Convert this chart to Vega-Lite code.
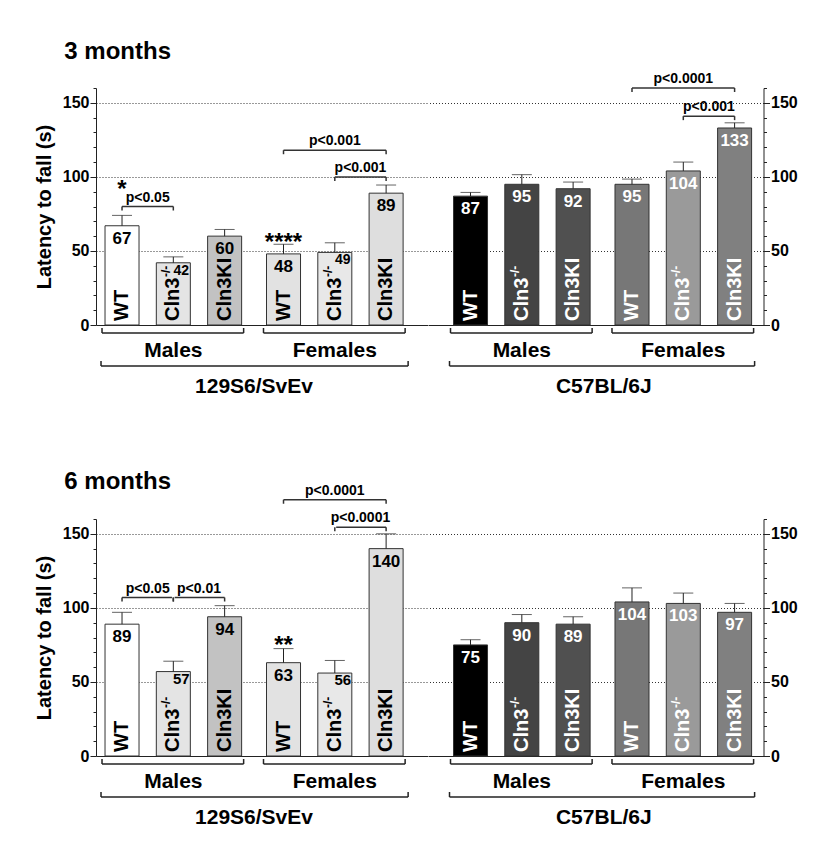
{
"$schema": "https://vega.github.io/schema/vega-lite/v6.json",
"padding": {"left": 34, "top": 40, "right": 5, "bottom": 5},
"config": {"font": "Liberation Sans", "view": {"stroke": null}},
"datasets": {"all": [
{"k":"bar","age":"3 months","strain":"129S6/SvEv","sex":"Males","genotype":"WT","mean":67,"err":74},
{"k":"bar","age":"3 months","strain":"129S6/SvEv","sex":"Males","genotype":"Cln3-/-","mean":42,"err":46},
{"k":"bar","age":"3 months","strain":"129S6/SvEv","sex":"Males","genotype":"Cln3KI","mean":60,"err":64.5},
{"k":"bar","age":"3 months","strain":"129S6/SvEv","sex":"Females","genotype":"WT","mean":48,"err":54.5},
{"k":"bar","age":"3 months","strain":"129S6/SvEv","sex":"Females","genotype":"Cln3-/-","mean":49,"err":55.5},
{"k":"bar","age":"3 months","strain":"129S6/SvEv","sex":"Females","genotype":"Cln3KI","mean":89,"err":94.5},
{"k":"bar","age":"3 months","strain":"C57BL/6J","sex":"Males","genotype":"WT","mean":87,"err":89.5},
{"k":"bar","age":"3 months","strain":"C57BL/6J","sex":"Males","genotype":"Cln3-/-","mean":95,"err":101.5},
{"k":"bar","age":"3 months","strain":"C57BL/6J","sex":"Males","genotype":"Cln3KI","mean":92,"err":96.5},
{"k":"bar","age":"3 months","strain":"C57BL/6J","sex":"Females","genotype":"WT","mean":95,"err":98.5},
{"k":"bar","age":"3 months","strain":"C57BL/6J","sex":"Females","genotype":"Cln3-/-","mean":104,"err":110},
{"k":"bar","age":"3 months","strain":"C57BL/6J","sex":"Females","genotype":"Cln3KI","mean":133,"err":136.5},
{"k":"bar","age":"6 months","strain":"129S6/SvEv","sex":"Males","genotype":"WT","mean":89,"err":97},
{"k":"bar","age":"6 months","strain":"129S6/SvEv","sex":"Males","genotype":"Cln3-/-","mean":57,"err":64},
{"k":"bar","age":"6 months","strain":"129S6/SvEv","sex":"Males","genotype":"Cln3KI","mean":94,"err":101.5},
{"k":"bar","age":"6 months","strain":"129S6/SvEv","sex":"Females","genotype":"WT","mean":63,"err":72.5},
{"k":"bar","age":"6 months","strain":"129S6/SvEv","sex":"Females","genotype":"Cln3-/-","mean":56,"err":64.5},
{"k":"bar","age":"6 months","strain":"129S6/SvEv","sex":"Females","genotype":"Cln3KI","mean":140,"err":150},
{"k":"bar","age":"6 months","strain":"C57BL/6J","sex":"Males","genotype":"WT","mean":75,"err":78.5},
{"k":"bar","age":"6 months","strain":"C57BL/6J","sex":"Males","genotype":"Cln3-/-","mean":90,"err":95.5},
{"k":"bar","age":"6 months","strain":"C57BL/6J","sex":"Males","genotype":"Cln3KI","mean":89,"err":94},
{"k":"bar","age":"6 months","strain":"C57BL/6J","sex":"Females","genotype":"WT","mean":104,"err":113.5},
{"k":"bar","age":"6 months","strain":"C57BL/6J","sex":"Females","genotype":"Cln3-/-","mean":103,"err":110},
{"k":"bar","age":"6 months","strain":"C57BL/6J","sex":"Females","genotype":"Cln3KI","mean":97,"err":103},
{"k":"sig","age":"3 months","strain":"129S6/SvEv","sex":"Males","from":"WT","to":"Cln3-/-","pair":"WT-Cln3","level":80,"label":"p<0.05"},
{"k":"sig","age":"3 months","strain":"129S6/SvEv","sex":"Females","from":"WT","to":"Cln3KI","pair":"WT-KI","level":118,"label":"p<0.001"},
{"k":"sig","age":"3 months","strain":"129S6/SvEv","sex":"Females","from":"Cln3-/-","to":"Cln3KI","pair":"Cln3-KI","level":100,"label":"p<0.001"},
{"k":"sig","age":"3 months","strain":"C57BL/6J","sex":"Females","from":"WT","to":"Cln3KI","pair":"WT-KI","level":160,"label":"p<0.0001"},
{"k":"sig","age":"3 months","strain":"C57BL/6J","sex":"Females","from":"Cln3-/-","to":"Cln3KI","pair":"Cln3-KI","level":141,"label":"p<0.001"},
{"k":"sig","age":"6 months","strain":"129S6/SvEv","sex":"Males","from":"WT","to":"Cln3-/-","pair":"WT-Cln3","level":107,"label":"p<0.05"},
{"k":"sig","age":"6 months","strain":"129S6/SvEv","sex":"Males","from":"Cln3-/-","to":"Cln3KI","pair":"Cln3-KI","level":107,"label":"p<0.01"},
{"k":"sig","age":"6 months","strain":"129S6/SvEv","sex":"Females","from":"WT","to":"Cln3KI","pair":"WT-KI","level":173,"label":"p<0.0001"},
{"k":"sig","age":"6 months","strain":"129S6/SvEv","sex":"Females","from":"Cln3-/-","to":"Cln3KI","pair":"Cln3-KI","level":154.5,"label":"p<0.0001"},
{"k":"star","age":"3 months","strain":"129S6/SvEv","sex":"Males","genotype":"WT","level":86.5,"label":"*"},
{"k":"star","age":"3 months","strain":"129S6/SvEv","sex":"Females","genotype":"WT","level":50.5,"label":"****"},
{"k":"star","age":"6 months","strain":"129S6/SvEv","sex":"Females","genotype":"WT","level":69.5,"label":"**"}
]},
"data": {"name": "all"},
"spacing": 73,
"vconcat": [
{"title": {"text": "3 months", "anchor": "start", "fontSize": 24, "fontWeight": "bold", "color": "#000", "dx": 30, "offset": 8},
 "spacing": 0, "bounds": "flush",
 "hconcat": [
 {"width": 331.5, "height": 237,
  "transform": [{"filter": "datum.age==='3 months' && datum.strain==='129S6/SvEv'"}],
  "encoding": {
   "x": {"field": "sex", "type": "nominal", "scale": {"domain": ["Males","Females"], "paddingInner": 0.154, "paddingOuter": 0.1034, "align": 0.27},
    "axis": {"title": "129S6/SvEv", "labelAngle": 0, "ticks": false, "tickSize": 0, "labelFontSize": 21, "labelFontWeight": "bold", "labelColor": "#000", "labelBaseline": "alphabetic", "labelPadding": 31, "domainColor": "#222", "titleFontSize": 21, "titleFontWeight": "bold", "titleColor": "#000", "titleX": 157.5, "titleY": 67, "titleBaseline": "alphabetic", "titleAlign": "center"}},
   "y": {"field": "mean", "type": "quantitative", "scale": {"domain": [0,160], "nice": false},
    "axis": {"orient": "left", "title": "Latency to fall (s)", "values": [0,10,20,30,40,50,60,70,80,90,100,110,120,130,140,150,160], "labelExpr": "datum.value % 50 === 0 ? datum.label : ''", "labelFontSize": 16, "labelFontWeight": "bold", "labelColor": "#000", "labelPadding": 1, "labelFlush": false, "labelOverlap": false, "tickSize": {"condition": {"test": "datum.value % 50 === 0", "value": 6}, "value": 3}, "tickColor": "#222", "domainColor": "#222", "grid": true, "gridColor": "#333", "gridDash": [1,2], "gridOpacity": {"condition": {"test": "datum.value % 50 === 0 && datum.value > 0", "value": 1}, "value": 0}, "titleFontSize": 20, "titleFontWeight": "bold", "titleColor": "#000", "titlePadding": 8}}
  },
  "layer": [
   {"mark": {"type": "bar", "stroke": "#333", "strokeWidth": 1},
    "transform": [{"filter": "datum.k==='bar'"}],
    "encoding": {"xOffset": {"field": "genotype", "type": "nominal", "scale": {"domain": ["WT","Cln3-/-","Cln3KI"], "paddingInner": 0.337, "paddingOuter": 0}},
     "fill": {"condition": [
      {"test": "datum.sex==='Males' && datum.genotype==='WT'", "value": "#ffffff"},
      {"test": "datum.sex==='Males' && datum.genotype==='Cln3-/-'", "value": "#e4e4e4"},
      {"test": "datum.sex==='Males' && datum.genotype==='Cln3KI'", "value": "#c2c2c2"},
      {"test": "datum.sex==='Females' && datum.genotype==='WT'", "value": "#e2e2e2"},
      {"test": "datum.sex==='Females' && datum.genotype==='Cln3-/-'", "value": "#e8e8e8"}], "value": "#dedede"}}},
   {"mark": {"type": "rule", "color": "#222"}, "transform": [{"filter": "datum.k==='bar'"}],
    "encoding": {"xOffset": {"field": "genotype", "type": "nominal"}, "y2": {"field": "err"}}},
   {"mark": {"type": "tick", "color": "#222", "size": 20, "thickness": 1, "orient": "horizontal"}, "transform": [{"filter": "datum.k==='bar'"}],
    "encoding": {"xOffset": {"field": "genotype", "type": "nominal"}, "y": {"field": "err", "type": "quantitative"}}},
   {"mark": {"type": "text", "fontSize": 17, "fontWeight": "bold", "baseline": "alphabetic", "dy": 18, "fill": "#000"}, "transform": [{"filter": "datum.k==='bar' && datum.genotype!=='Cln3-/-'"}],
    "encoding": {"xOffset": {"field": "genotype", "type": "nominal"}, "text": {"field": "mean", "type": "quantitative"}}},
   {"mark": {"type": "text", "fontSize": 14, "fontWeight": "bold", "baseline": "alphabetic", "dy": 12, "dx": 8, "fill": "#000"}, "transform": [{"filter": "datum.k==='bar' && datum.genotype==='Cln3-/-'"}],
    "encoding": {"xOffset": {"field": "genotype", "type": "nominal"}, "text": {"field": "mean", "type": "quantitative"}}},
   {"mark": {"type": "text", "angle": 270, "align": "left", "baseline": "middle", "dx": 4, "fontSize": 20, "fontWeight": "bold", "fill": "#000"}, "transform": [{"filter": "datum.k==='bar' && datum.genotype!=='Cln3-/-'"}],
    "encoding": {"xOffset": {"field": "genotype", "type": "nominal"}, "y": {"datum": 0}, "text": {"field": "genotype", "type": "nominal"}}},
   {"mark": {"type": "text", "angle": 270, "align": "left", "baseline": "middle", "dx": 4, "fontSize": 20, "fontWeight": "bold", "fill": "#000"}, "transform": [{"filter": "datum.k==='bar' && datum.genotype==='Cln3-/-'"}],
    "encoding": {"xOffset": {"field": "genotype", "type": "nominal"}, "y": {"datum": 0}, "text": {"value": "Cln3"}}},
   {"mark": {"type": "text", "angle": 270, "align": "left", "baseline": "middle", "dx": 48, "dy": -7, "fontSize": 12, "fontWeight": "bold", "fill": "#000"}, "transform": [{"filter": "datum.k==='bar' && datum.genotype==='Cln3-/-'"}],
    "encoding": {"xOffset": {"field": "genotype", "type": "nominal"}, "y": {"datum": 0}, "text": {"value": "-/-"}}},
   {"mark": {"type": "rule", "color": "#222", "strokeWidth": 1.5, "yOffset": 8, "xOffset": -3, "x2Offset": 2}, "transform": [{"filter": "datum.k==='bar' && datum.genotype==='WT'"}],
    "encoding": {"x": {"field": "sex", "type": "nominal", "bandPosition": 0}, "x2": {"field": "sex", "bandPosition": 1}, "y": {"datum": 0}}},
   {"mark": {"type": "rule", "color": "#222", "strokeWidth": 1.5, "xOffset": -3, "yOffset": 3, "y2Offset": 8}, "transform": [{"filter": "datum.k==='bar' && datum.genotype==='WT'"}],
    "encoding": {"x": {"field": "sex", "type": "nominal", "bandPosition": 0}, "y": {"datum": 0}, "y2": {"datum": 0}}},
   {"mark": {"type": "rule", "color": "#222", "strokeWidth": 1.5, "xOffset": 2, "yOffset": 3, "y2Offset": 8}, "transform": [{"filter": "datum.k==='bar' && datum.genotype==='WT'"}],
    "encoding": {"x": {"field": "sex", "type": "nominal", "bandPosition": 1}, "y": {"datum": 0}, "y2": {"datum": 0}}},
   {"mark": {"type": "rule", "color": "#222", "strokeWidth": 1.5, "yOffset": 41, "xOffset": -4, "x2Offset": 5}, "transform": [{"filter": "datum.k==='bar' && datum.genotype==='WT' && datum.sex==='Males'"}],
    "encoding": {"x": {"datum": "Males", "type": "nominal", "bandPosition": 0}, "x2": {"datum": "Females", "bandPosition": 1}, "y": {"datum": 0}}},
   {"mark": {"type": "rule", "color": "#222", "strokeWidth": 1.5, "xOffset": -4, "yOffset": 36, "y2Offset": 41}, "transform": [{"filter": "datum.k==='bar' && datum.genotype==='WT' && datum.sex==='Males'"}],
    "encoding": {"x": {"datum": "Males", "type": "nominal", "bandPosition": 0}, "y": {"datum": 0}, "y2": {"datum": 0}}},
   {"mark": {"type": "rule", "color": "#222", "strokeWidth": 1.5, "xOffset": 5, "yOffset": 36, "y2Offset": 41}, "transform": [{"filter": "datum.k==='bar' && datum.genotype==='WT' && datum.sex==='Males'"}],
    "encoding": {"x": {"datum": "Females", "type": "nominal", "bandPosition": 1}, "y": {"datum": 0}, "y2": {"datum": 0}}},
   {"transform": [{"filter": "datum.k==='sig' && datum.pair==='WT-Cln3'"}], "layer": [
     {"mark": {"type": "rule", "color": "#333", "strokeWidth": 1.5}, "encoding": {"x": {"field": "sex", "type": "nominal", "bandPosition": 0.1245}, "x2": {"field": "sex", "bandPosition": 0.5}, "y": {"field": "level", "type": "quantitative"}}},
     {"mark": {"type": "text", "fontSize": 14, "fontWeight": "bold", "baseline": "alphabetic", "dy": -5, "fill": "#000"}, "encoding": {"x": {"field": "sex", "type": "nominal", "bandPosition": 0.3123}, "y": {"field": "level", "type": "quantitative"}, "text": {"field": "label", "type": "nominal"}}}]},
   {"transform": [{"filter": "datum.k==='sig' && datum.pair==='WT-KI'"}], "layer": [
     {"mark": {"type": "rule", "color": "#333", "strokeWidth": 1.5}, "encoding": {"x": {"field": "sex", "type": "nominal", "bandPosition": 0.1245}, "x2": {"field": "sex", "bandPosition": 0.8755}, "y": {"field": "level", "type": "quantitative"}}},
     {"mark": {"type": "text", "fontSize": 14, "fontWeight": "bold", "baseline": "alphabetic", "dy": -5, "fill": "#000"}, "encoding": {"x": {"field": "sex", "type": "nominal", "bandPosition": 0.5}, "y": {"field": "level", "type": "quantitative"}, "text": {"field": "label", "type": "nominal"}}}]},
   {"transform": [{"filter": "datum.k==='sig' && datum.pair==='Cln3-KI'"}], "layer": [
     {"mark": {"type": "rule", "color": "#333", "strokeWidth": 1.5}, "encoding": {"x": {"field": "sex", "type": "nominal", "bandPosition": 0.5}, "x2": {"field": "sex", "bandPosition": 0.8755}, "y": {"field": "level", "type": "quantitative"}}},
     {"mark": {"type": "text", "fontSize": 14, "fontWeight": "bold", "baseline": "alphabetic", "dy": -5, "fill": "#000"}, "encoding": {"x": {"field": "sex", "type": "nominal", "bandPosition": 0.6877}, "y": {"field": "level", "type": "quantitative"}, "text": {"field": "label", "type": "nominal"}}}]},
   {"mark": {"type": "rule", "color": "#333", "strokeWidth": 1.5, "y2Offset": 4}, "transform": [{"filter": "datum.k==='sig'"}],
    "encoding": {"xOffset": {"field": "from", "type": "nominal"}, "y": {"field": "level", "type": "quantitative"}, "y2": {"field": "level"}}},
   {"mark": {"type": "rule", "color": "#333", "strokeWidth": 1.5, "y2Offset": 4}, "transform": [{"filter": "datum.k==='sig'"}],
    "encoding": {"xOffset": {"field": "to", "type": "nominal"}, "y": {"field": "level", "type": "quantitative"}, "y2": {"field": "level"}}},
   {"mark": {"type": "text", "fontSize": 24, "fontWeight": "bold", "baseline": "alphabetic", "fill": "#000"}, "transform": [{"filter": "datum.k==='star'"}],
    "encoding": {"xOffset": {"field": "genotype", "type": "nominal"}, "y": {"field": "level", "type": "quantitative"}, "text": {"field": "label", "type": "nominal"}}}
  ]},
 {"width": 335.5, "height": 237,
  "transform": [{"filter": "datum.age==='3 months' && datum.strain==='C57BL/6J'"}],
  "encoding": {
   "x": {"field": "sex", "type": "nominal", "scale": {"domain": ["Males","Females"], "paddingInner": 0.154, "paddingOuter": 0.1158, "align": 0.682},
    "axis": {"title": "C57BL/6J", "labelAngle": 0, "ticks": false, "tickSize": 0, "labelFontSize": 21, "labelFontWeight": "bold", "labelColor": "#000", "labelBaseline": "alphabetic", "labelPadding": 31, "domainColor": "#222", "titleFontSize": 21, "titleFontWeight": "bold", "titleColor": "#000", "titleX": 175.3, "titleY": 67, "titleBaseline": "alphabetic", "titleAlign": "center"}},
   "y": {"field": "mean", "type": "quantitative", "scale": {"domain": [0,160], "nice": false},
    "axis": {"orient": "right", "title": null, "values": [0,10,20,30,40,50,60,70,80,90,100,110,120,130,140,150,160], "labelExpr": "datum.value % 50 === 0 ? datum.label : ''", "labelFontSize": 16, "labelFontWeight": "bold", "labelColor": "#000", "labelPadding": 1, "labelFlush": false, "labelOverlap": false, "tickSize": {"condition": {"test": "datum.value % 50 === 0", "value": 6}, "value": 3}, "tickColor": "#222", "domainColor": "#222", "grid": true, "gridColor": "#333", "gridDash": [1,2], "gridOpacity": {"condition": {"test": "datum.value % 50 === 0 && datum.value > 0", "value": 1}, "value": 0}}}
  },
  "layer": [
   {"mark": {"type": "bar", "stroke": "#333", "strokeWidth": 1},
    "transform": [{"filter": "datum.k==='bar'"}],
    "encoding": {"xOffset": {"field": "genotype", "type": "nominal", "scale": {"domain": ["WT","Cln3-/-","Cln3KI"], "paddingInner": 0.337, "paddingOuter": 0}},
     "fill": {"condition": [
      {"test": "datum.sex==='Males' && datum.genotype==='WT'", "value": "#000000"},
      {"test": "datum.sex==='Males' && datum.genotype==='Cln3-/-'", "value": "#444444"},
      {"test": "datum.sex==='Males' && datum.genotype==='Cln3KI'", "value": "#505050"},
      {"test": "datum.sex==='Females' && datum.genotype==='WT'", "value": "#777777"},
      {"test": "datum.sex==='Females' && datum.genotype==='Cln3-/-'", "value": "#9a9a9a"}], "value": "#808080"}}},
   {"mark": {"type": "rule", "color": "#222"}, "transform": [{"filter": "datum.k==='bar'"}],
    "encoding": {"xOffset": {"field": "genotype", "type": "nominal"}, "y2": {"field": "err"}}},
   {"mark": {"type": "tick", "color": "#222", "size": 20, "thickness": 1, "orient": "horizontal"}, "transform": [{"filter": "datum.k==='bar'"}],
    "encoding": {"xOffset": {"field": "genotype", "type": "nominal"}, "y": {"field": "err", "type": "quantitative"}}},
   {"mark": {"type": "text", "fontSize": 17, "fontWeight": "bold", "baseline": "alphabetic", "dy": 18, "fill": "#fff"}, "transform": [{"filter": "datum.k==='bar'"}],
    "encoding": {"xOffset": {"field": "genotype", "type": "nominal"}, "text": {"field": "mean", "type": "quantitative"}}},
   {"mark": {"type": "text", "angle": 270, "align": "left", "baseline": "middle", "dx": 4, "fontSize": 20, "fontWeight": "bold", "fill": "#fff"}, "transform": [{"filter": "datum.k==='bar' && datum.genotype!=='Cln3-/-'"}],
    "encoding": {"xOffset": {"field": "genotype", "type": "nominal"}, "y": {"datum": 0}, "text": {"field": "genotype", "type": "nominal"}}},
   {"mark": {"type": "text", "angle": 270, "align": "left", "baseline": "middle", "dx": 4, "fontSize": 20, "fontWeight": "bold", "fill": "#fff"}, "transform": [{"filter": "datum.k==='bar' && datum.genotype==='Cln3-/-'"}],
    "encoding": {"xOffset": {"field": "genotype", "type": "nominal"}, "y": {"datum": 0}, "text": {"value": "Cln3"}}},
   {"mark": {"type": "text", "angle": 270, "align": "left", "baseline": "middle", "dx": 48, "dy": -7, "fontSize": 12, "fontWeight": "bold", "fill": "#fff"}, "transform": [{"filter": "datum.k==='bar' && datum.genotype==='Cln3-/-'"}],
    "encoding": {"xOffset": {"field": "genotype", "type": "nominal"}, "y": {"datum": 0}, "text": {"value": "-/-"}}},
   {"mark": {"type": "rule", "color": "#222", "strokeWidth": 1.5, "yOffset": 8, "xOffset": -3, "x2Offset": 2}, "transform": [{"filter": "datum.k==='bar' && datum.genotype==='WT'"}],
    "encoding": {"x": {"field": "sex", "type": "nominal", "bandPosition": 0}, "x2": {"field": "sex", "bandPosition": 1}, "y": {"datum": 0}}},
   {"mark": {"type": "rule", "color": "#222", "strokeWidth": 1.5, "xOffset": -3, "yOffset": 3, "y2Offset": 8}, "transform": [{"filter": "datum.k==='bar' && datum.genotype==='WT'"}],
    "encoding": {"x": {"field": "sex", "type": "nominal", "bandPosition": 0}, "y": {"datum": 0}, "y2": {"datum": 0}}},
   {"mark": {"type": "rule", "color": "#222", "strokeWidth": 1.5, "xOffset": 2, "yOffset": 3, "y2Offset": 8}, "transform": [{"filter": "datum.k==='bar' && datum.genotype==='WT'"}],
    "encoding": {"x": {"field": "sex", "type": "nominal", "bandPosition": 1}, "y": {"datum": 0}, "y2": {"datum": 0}}},
   {"mark": {"type": "rule", "color": "#222", "strokeWidth": 1.5, "yOffset": 41, "xOffset": -4, "x2Offset": 3}, "transform": [{"filter": "datum.k==='bar' && datum.genotype==='WT' && datum.sex==='Males'"}],
    "encoding": {"x": {"datum": "Males", "type": "nominal", "bandPosition": 0}, "x2": {"datum": "Females", "bandPosition": 1}, "y": {"datum": 0}}},
   {"mark": {"type": "rule", "color": "#222", "strokeWidth": 1.5, "xOffset": -4, "yOffset": 36, "y2Offset": 41}, "transform": [{"filter": "datum.k==='bar' && datum.genotype==='WT' && datum.sex==='Males'"}],
    "encoding": {"x": {"datum": "Males", "type": "nominal", "bandPosition": 0}, "y": {"datum": 0}, "y2": {"datum": 0}}},
   {"mark": {"type": "rule", "color": "#222", "strokeWidth": 1.5, "xOffset": 3, "yOffset": 36, "y2Offset": 41}, "transform": [{"filter": "datum.k==='bar' && datum.genotype==='WT' && datum.sex==='Males'"}],
    "encoding": {"x": {"datum": "Females", "type": "nominal", "bandPosition": 1}, "y": {"datum": 0}, "y2": {"datum": 0}}},
   {"transform": [{"filter": "datum.k==='sig' && datum.pair==='WT-KI'"}], "layer": [
     {"mark": {"type": "rule", "color": "#333", "strokeWidth": 1.5}, "encoding": {"x": {"field": "sex", "type": "nominal", "bandPosition": 0.1245}, "x2": {"field": "sex", "bandPosition": 0.8755}, "y": {"field": "level", "type": "quantitative"}}},
     {"mark": {"type": "text", "fontSize": 14, "fontWeight": "bold", "baseline": "alphabetic", "dy": -5, "fill": "#000"}, "encoding": {"x": {"field": "sex", "type": "nominal", "bandPosition": 0.5}, "y": {"field": "level", "type": "quantitative"}, "text": {"field": "label", "type": "nominal"}}}]},
   {"transform": [{"filter": "datum.k==='sig' && datum.pair==='Cln3-KI'"}], "layer": [
     {"mark": {"type": "rule", "color": "#333", "strokeWidth": 1.5}, "encoding": {"x": {"field": "sex", "type": "nominal", "bandPosition": 0.5}, "x2": {"field": "sex", "bandPosition": 0.8755}, "y": {"field": "level", "type": "quantitative"}}},
     {"mark": {"type": "text", "fontSize": 14, "fontWeight": "bold", "baseline": "alphabetic", "dy": -5, "fill": "#000"}, "encoding": {"x": {"field": "sex", "type": "nominal", "bandPosition": 0.6877}, "y": {"field": "level", "type": "quantitative"}, "text": {"field": "label", "type": "nominal"}}}]},
   {"mark": {"type": "rule", "color": "#333", "strokeWidth": 1.5, "y2Offset": 4}, "transform": [{"filter": "datum.k==='sig'"}],
    "encoding": {"xOffset": {"field": "from", "type": "nominal"}, "y": {"field": "level", "type": "quantitative"}, "y2": {"field": "level"}}},
   {"mark": {"type": "rule", "color": "#333", "strokeWidth": 1.5, "y2Offset": 4}, "transform": [{"filter": "datum.k==='sig'"}],
    "encoding": {"xOffset": {"field": "to", "type": "nominal"}, "y": {"field": "level", "type": "quantitative"}, "y2": {"field": "level"}}}
  ]}
 ]},
{"title": {"text": "6 months", "anchor": "start", "fontSize": 24, "fontWeight": "bold", "color": "#000", "dx": 30, "offset": -10},
 "spacing": 0, "bounds": "flush",
 "hconcat": [
 {"width": 331.5, "height": 237,
  "transform": [{"filter": "datum.age==='6 months' && datum.strain==='129S6/SvEv'"}],
  "encoding": {
   "x": {"field": "sex", "type": "nominal", "scale": {"domain": ["Males","Females"], "paddingInner": 0.154, "paddingOuter": 0.1034, "align": 0.27},
    "axis": {"title": "129S6/SvEv", "labelAngle": 0, "ticks": false, "tickSize": 0, "labelFontSize": 21, "labelFontWeight": "bold", "labelColor": "#000", "labelBaseline": "alphabetic", "labelPadding": 31, "domainColor": "#222", "titleFontSize": 21, "titleFontWeight": "bold", "titleColor": "#000", "titleX": 157.5, "titleY": 67, "titleBaseline": "alphabetic", "titleAlign": "center"}},
   "y": {"field": "mean", "type": "quantitative", "scale": {"domain": [0,160], "nice": false},
    "axis": {"orient": "left", "title": "Latency to fall (s)", "values": [0,10,20,30,40,50,60,70,80,90,100,110,120,130,140,150,160], "labelExpr": "datum.value % 50 === 0 ? datum.label : ''", "labelFontSize": 16, "labelFontWeight": "bold", "labelColor": "#000", "labelPadding": 1, "labelFlush": false, "labelOverlap": false, "tickSize": {"condition": {"test": "datum.value % 50 === 0", "value": 6}, "value": 3}, "tickColor": "#222", "domainColor": "#222", "grid": true, "gridColor": "#333", "gridDash": [1,2], "gridOpacity": {"condition": {"test": "datum.value % 50 === 0 && datum.value > 0", "value": 1}, "value": 0}, "titleFontSize": 20, "titleFontWeight": "bold", "titleColor": "#000", "titlePadding": 8}}
  },
  "layer": [
   {"mark": {"type": "bar", "stroke": "#333", "strokeWidth": 1},
    "transform": [{"filter": "datum.k==='bar'"}],
    "encoding": {"xOffset": {"field": "genotype", "type": "nominal", "scale": {"domain": ["WT","Cln3-/-","Cln3KI"], "paddingInner": 0.337, "paddingOuter": 0}},
     "fill": {"condition": [
      {"test": "datum.sex==='Males' && datum.genotype==='WT'", "value": "#ffffff"},
      {"test": "datum.sex==='Males' && datum.genotype==='Cln3-/-'", "value": "#e4e4e4"},
      {"test": "datum.sex==='Males' && datum.genotype==='Cln3KI'", "value": "#c2c2c2"},
      {"test": "datum.sex==='Females' && datum.genotype==='WT'", "value": "#e2e2e2"},
      {"test": "datum.sex==='Females' && datum.genotype==='Cln3-/-'", "value": "#e8e8e8"}], "value": "#dedede"}}},
   {"mark": {"type": "rule", "color": "#222"}, "transform": [{"filter": "datum.k==='bar'"}],
    "encoding": {"xOffset": {"field": "genotype", "type": "nominal"}, "y2": {"field": "err"}}},
   {"mark": {"type": "tick", "color": "#222", "size": 20, "thickness": 1, "orient": "horizontal"}, "transform": [{"filter": "datum.k==='bar'"}],
    "encoding": {"xOffset": {"field": "genotype", "type": "nominal"}, "y": {"field": "err", "type": "quantitative"}}},
   {"mark": {"type": "text", "fontSize": 17, "fontWeight": "bold", "baseline": "alphabetic", "dy": 18, "fill": "#000"}, "transform": [{"filter": "datum.k==='bar' && datum.genotype!=='Cln3-/-'"}],
    "encoding": {"xOffset": {"field": "genotype", "type": "nominal"}, "text": {"field": "mean", "type": "quantitative"}}},
   {"mark": {"type": "text", "fontSize": 15, "fontWeight": "bold", "baseline": "alphabetic", "dy": 12, "dx": 8, "fill": "#000"}, "transform": [{"filter": "datum.k==='bar' && datum.genotype==='Cln3-/-'"}],
    "encoding": {"xOffset": {"field": "genotype", "type": "nominal"}, "text": {"field": "mean", "type": "quantitative"}}},
   {"mark": {"type": "text", "angle": 270, "align": "left", "baseline": "middle", "dx": 4, "fontSize": 20, "fontWeight": "bold", "fill": "#000"}, "transform": [{"filter": "datum.k==='bar' && datum.genotype!=='Cln3-/-'"}],
    "encoding": {"xOffset": {"field": "genotype", "type": "nominal"}, "y": {"datum": 0}, "text": {"field": "genotype", "type": "nominal"}}},
   {"mark": {"type": "text", "angle": 270, "align": "left", "baseline": "middle", "dx": 4, "fontSize": 20, "fontWeight": "bold", "fill": "#000"}, "transform": [{"filter": "datum.k==='bar' && datum.genotype==='Cln3-/-'"}],
    "encoding": {"xOffset": {"field": "genotype", "type": "nominal"}, "y": {"datum": 0}, "text": {"value": "Cln3"}}},
   {"mark": {"type": "text", "angle": 270, "align": "left", "baseline": "middle", "dx": 48, "dy": -7, "fontSize": 12, "fontWeight": "bold", "fill": "#000"}, "transform": [{"filter": "datum.k==='bar' && datum.genotype==='Cln3-/-'"}],
    "encoding": {"xOffset": {"field": "genotype", "type": "nominal"}, "y": {"datum": 0}, "text": {"value": "-/-"}}},
   {"mark": {"type": "rule", "color": "#222", "strokeWidth": 1.5, "yOffset": 8, "xOffset": -3, "x2Offset": 2}, "transform": [{"filter": "datum.k==='bar' && datum.genotype==='WT'"}],
    "encoding": {"x": {"field": "sex", "type": "nominal", "bandPosition": 0}, "x2": {"field": "sex", "bandPosition": 1}, "y": {"datum": 0}}},
   {"mark": {"type": "rule", "color": "#222", "strokeWidth": 1.5, "xOffset": -3, "yOffset": 3, "y2Offset": 8}, "transform": [{"filter": "datum.k==='bar' && datum.genotype==='WT'"}],
    "encoding": {"x": {"field": "sex", "type": "nominal", "bandPosition": 0}, "y": {"datum": 0}, "y2": {"datum": 0}}},
   {"mark": {"type": "rule", "color": "#222", "strokeWidth": 1.5, "xOffset": 2, "yOffset": 3, "y2Offset": 8}, "transform": [{"filter": "datum.k==='bar' && datum.genotype==='WT'"}],
    "encoding": {"x": {"field": "sex", "type": "nominal", "bandPosition": 1}, "y": {"datum": 0}, "y2": {"datum": 0}}},
   {"mark": {"type": "rule", "color": "#222", "strokeWidth": 1.5, "yOffset": 41, "xOffset": -4, "x2Offset": 5}, "transform": [{"filter": "datum.k==='bar' && datum.genotype==='WT' && datum.sex==='Males'"}],
    "encoding": {"x": {"datum": "Males", "type": "nominal", "bandPosition": 0}, "x2": {"datum": "Females", "bandPosition": 1}, "y": {"datum": 0}}},
   {"mark": {"type": "rule", "color": "#222", "strokeWidth": 1.5, "xOffset": -4, "yOffset": 36, "y2Offset": 41}, "transform": [{"filter": "datum.k==='bar' && datum.genotype==='WT' && datum.sex==='Males'"}],
    "encoding": {"x": {"datum": "Males", "type": "nominal", "bandPosition": 0}, "y": {"datum": 0}, "y2": {"datum": 0}}},
   {"mark": {"type": "rule", "color": "#222", "strokeWidth": 1.5, "xOffset": 5, "yOffset": 36, "y2Offset": 41}, "transform": [{"filter": "datum.k==='bar' && datum.genotype==='WT' && datum.sex==='Males'"}],
    "encoding": {"x": {"datum": "Females", "type": "nominal", "bandPosition": 1}, "y": {"datum": 0}, "y2": {"datum": 0}}},
   {"transform": [{"filter": "datum.k==='sig' && datum.pair==='WT-Cln3'"}], "layer": [
     {"mark": {"type": "rule", "color": "#333", "strokeWidth": 1.5}, "encoding": {"x": {"field": "sex", "type": "nominal", "bandPosition": 0.1245}, "x2": {"field": "sex", "bandPosition": 0.49}, "y": {"field": "level", "type": "quantitative"}}},
     {"mark": {"type": "text", "fontSize": 14, "fontWeight": "bold", "baseline": "alphabetic", "dy": -5, "fill": "#000"}, "encoding": {"x": {"field": "sex", "type": "nominal", "bandPosition": 0.3123}, "y": {"field": "level", "type": "quantitative"}, "text": {"field": "label", "type": "nominal"}}}]},
   {"transform": [{"filter": "datum.k==='sig' && datum.pair==='WT-KI'"}], "layer": [
     {"mark": {"type": "rule", "color": "#333", "strokeWidth": 1.5}, "encoding": {"x": {"field": "sex", "type": "nominal", "bandPosition": 0.1245}, "x2": {"field": "sex", "bandPosition": 0.8755}, "y": {"field": "level", "type": "quantitative"}}},
     {"mark": {"type": "text", "fontSize": 14, "fontWeight": "bold", "baseline": "alphabetic", "dy": -5, "fill": "#000"}, "encoding": {"x": {"field": "sex", "type": "nominal", "bandPosition": 0.5}, "y": {"field": "level", "type": "quantitative"}, "text": {"field": "label", "type": "nominal"}}}]},
   {"transform": [{"filter": "datum.k==='sig' && datum.pair==='Cln3-KI'"}], "layer": [
     {"mark": {"type": "rule", "color": "#333", "strokeWidth": 1.5}, "encoding": {"x": {"field": "sex", "type": "nominal", "bandPosition": 0.51}, "x2": {"field": "sex", "bandPosition": 0.8755}, "y": {"field": "level", "type": "quantitative"}}},
     {"mark": {"type": "text", "fontSize": 14, "fontWeight": "bold", "baseline": "alphabetic", "dy": -5, "fill": "#000"}, "encoding": {"x": {"field": "sex", "type": "nominal", "bandPosition": 0.6877}, "y": {"field": "level", "type": "quantitative"}, "text": {"field": "label", "type": "nominal"}}}]},
   {"mark": {"type": "rule", "color": "#333", "strokeWidth": 1.5, "y2Offset": 4}, "transform": [{"filter": "datum.k==='sig'"}],
    "encoding": {"xOffset": {"field": "from", "type": "nominal"}, "y": {"field": "level", "type": "quantitative"}, "y2": {"field": "level"}}},
   {"mark": {"type": "rule", "color": "#333", "strokeWidth": 1.5, "y2Offset": 4}, "transform": [{"filter": "datum.k==='sig'"}],
    "encoding": {"xOffset": {"field": "to", "type": "nominal"}, "y": {"field": "level", "type": "quantitative"}, "y2": {"field": "level"}}},
   {"mark": {"type": "text", "fontSize": 24, "fontWeight": "bold", "baseline": "alphabetic", "fill": "#000"}, "transform": [{"filter": "datum.k==='star'"}],
    "encoding": {"xOffset": {"field": "genotype", "type": "nominal"}, "y": {"field": "level", "type": "quantitative"}, "text": {"field": "label", "type": "nominal"}}}
  ]},
 {"width": 335.5, "height": 237,
  "transform": [{"filter": "datum.age==='6 months' && datum.strain==='C57BL/6J'"}],
  "encoding": {
   "x": {"field": "sex", "type": "nominal", "scale": {"domain": ["Males","Females"], "paddingInner": 0.154, "paddingOuter": 0.1158, "align": 0.682},
    "axis": {"title": "C57BL/6J", "labelAngle": 0, "ticks": false, "tickSize": 0, "labelFontSize": 21, "labelFontWeight": "bold", "labelColor": "#000", "labelBaseline": "alphabetic", "labelPadding": 31, "domainColor": "#222", "titleFontSize": 21, "titleFontWeight": "bold", "titleColor": "#000", "titleX": 175.3, "titleY": 67, "titleBaseline": "alphabetic", "titleAlign": "center"}},
   "y": {"field": "mean", "type": "quantitative", "scale": {"domain": [0,160], "nice": false},
    "axis": {"orient": "right", "title": null, "values": [0,10,20,30,40,50,60,70,80,90,100,110,120,130,140,150,160], "labelExpr": "datum.value % 50 === 0 ? datum.label : ''", "labelFontSize": 16, "labelFontWeight": "bold", "labelColor": "#000", "labelPadding": 1, "labelFlush": false, "labelOverlap": false, "tickSize": {"condition": {"test": "datum.value % 50 === 0", "value": 6}, "value": 3}, "tickColor": "#222", "domainColor": "#222", "grid": true, "gridColor": "#333", "gridDash": [1,2], "gridOpacity": {"condition": {"test": "datum.value % 50 === 0 && datum.value > 0", "value": 1}, "value": 0}}}
  },
  "layer": [
   {"mark": {"type": "bar", "stroke": "#333", "strokeWidth": 1},
    "transform": [{"filter": "datum.k==='bar'"}],
    "encoding": {"xOffset": {"field": "genotype", "type": "nominal", "scale": {"domain": ["WT","Cln3-/-","Cln3KI"], "paddingInner": 0.337, "paddingOuter": 0}},
     "fill": {"condition": [
      {"test": "datum.sex==='Males' && datum.genotype==='WT'", "value": "#000000"},
      {"test": "datum.sex==='Males' && datum.genotype==='Cln3-/-'", "value": "#444444"},
      {"test": "datum.sex==='Males' && datum.genotype==='Cln3KI'", "value": "#505050"},
      {"test": "datum.sex==='Females' && datum.genotype==='WT'", "value": "#777777"},
      {"test": "datum.sex==='Females' && datum.genotype==='Cln3-/-'", "value": "#9a9a9a"}], "value": "#808080"}}},
   {"mark": {"type": "rule", "color": "#222"}, "transform": [{"filter": "datum.k==='bar'"}],
    "encoding": {"xOffset": {"field": "genotype", "type": "nominal"}, "y2": {"field": "err"}}},
   {"mark": {"type": "tick", "color": "#222", "size": 20, "thickness": 1, "orient": "horizontal"}, "transform": [{"filter": "datum.k==='bar'"}],
    "encoding": {"xOffset": {"field": "genotype", "type": "nominal"}, "y": {"field": "err", "type": "quantitative"}}},
   {"mark": {"type": "text", "fontSize": 17, "fontWeight": "bold", "baseline": "alphabetic", "dy": 18, "fill": "#fff"}, "transform": [{"filter": "datum.k==='bar'"}],
    "encoding": {"xOffset": {"field": "genotype", "type": "nominal"}, "text": {"field": "mean", "type": "quantitative"}}},
   {"mark": {"type": "text", "angle": 270, "align": "left", "baseline": "middle", "dx": 4, "fontSize": 20, "fontWeight": "bold", "fill": "#fff"}, "transform": [{"filter": "datum.k==='bar' && datum.genotype!=='Cln3-/-'"}],
    "encoding": {"xOffset": {"field": "genotype", "type": "nominal"}, "y": {"datum": 0}, "text": {"field": "genotype", "type": "nominal"}}},
   {"mark": {"type": "text", "angle": 270, "align": "left", "baseline": "middle", "dx": 4, "fontSize": 20, "fontWeight": "bold", "fill": "#fff"}, "transform": [{"filter": "datum.k==='bar' && datum.genotype==='Cln3-/-'"}],
    "encoding": {"xOffset": {"field": "genotype", "type": "nominal"}, "y": {"datum": 0}, "text": {"value": "Cln3"}}},
   {"mark": {"type": "text", "angle": 270, "align": "left", "baseline": "middle", "dx": 48, "dy": -7, "fontSize": 12, "fontWeight": "bold", "fill": "#fff"}, "transform": [{"filter": "datum.k==='bar' && datum.genotype==='Cln3-/-'"}],
    "encoding": {"xOffset": {"field": "genotype", "type": "nominal"}, "y": {"datum": 0}, "text": {"value": "-/-"}}},
   {"mark": {"type": "rule", "color": "#222", "strokeWidth": 1.5, "yOffset": 8, "xOffset": -3, "x2Offset": 2}, "transform": [{"filter": "datum.k==='bar' && datum.genotype==='WT'"}],
    "encoding": {"x": {"field": "sex", "type": "nominal", "bandPosition": 0}, "x2": {"field": "sex", "bandPosition": 1}, "y": {"datum": 0}}},
   {"mark": {"type": "rule", "color": "#222", "strokeWidth": 1.5, "xOffset": -3, "yOffset": 3, "y2Offset": 8}, "transform": [{"filter": "datum.k==='bar' && datum.genotype==='WT'"}],
    "encoding": {"x": {"field": "sex", "type": "nominal", "bandPosition": 0}, "y": {"datum": 0}, "y2": {"datum": 0}}},
   {"mark": {"type": "rule", "color": "#222", "strokeWidth": 1.5, "xOffset": 2, "yOffset": 3, "y2Offset": 8}, "transform": [{"filter": "datum.k==='bar' && datum.genotype==='WT'"}],
    "encoding": {"x": {"field": "sex", "type": "nominal", "bandPosition": 1}, "y": {"datum": 0}, "y2": {"datum": 0}}},
   {"mark": {"type": "rule", "color": "#222", "strokeWidth": 1.5, "yOffset": 41, "xOffset": -4, "x2Offset": 3}, "transform": [{"filter": "datum.k==='bar' && datum.genotype==='WT' && datum.sex==='Males'"}],
    "encoding": {"x": {"datum": "Males", "type": "nominal", "bandPosition": 0}, "x2": {"datum": "Females", "bandPosition": 1}, "y": {"datum": 0}}},
   {"mark": {"type": "rule", "color": "#222", "strokeWidth": 1.5, "xOffset": -4, "yOffset": 36, "y2Offset": 41}, "transform": [{"filter": "datum.k==='bar' && datum.genotype==='WT' && datum.sex==='Males'"}],
    "encoding": {"x": {"datum": "Males", "type": "nominal", "bandPosition": 0}, "y": {"datum": 0}, "y2": {"datum": 0}}},
   {"mark": {"type": "rule", "color": "#222", "strokeWidth": 1.5, "xOffset": 3, "yOffset": 36, "y2Offset": 41}, "transform": [{"filter": "datum.k==='bar' && datum.genotype==='WT' && datum.sex==='Males'"}],
    "encoding": {"x": {"datum": "Females", "type": "nominal", "bandPosition": 1}, "y": {"datum": 0}, "y2": {"datum": 0}}}
  ]}
 ]}
]
}
